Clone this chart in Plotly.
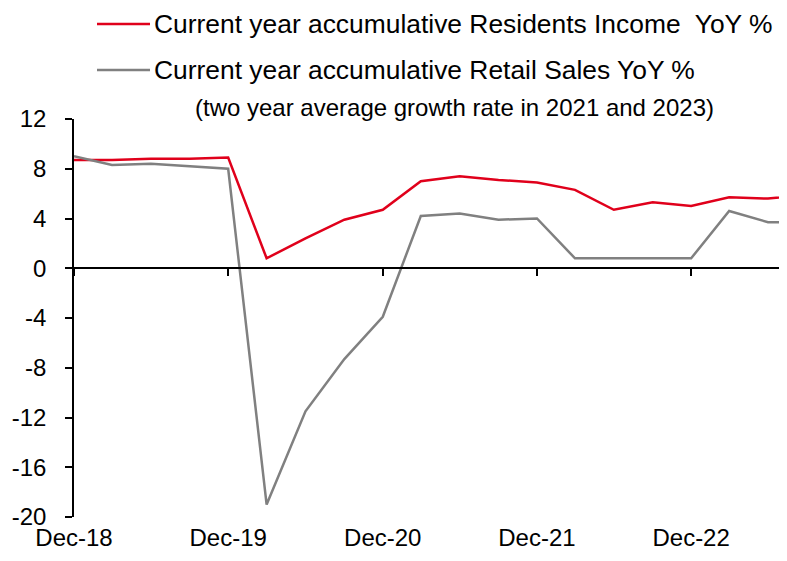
import plotly.graph_objects as go

# ---- data ----
quarters = ["2018-12-01", "2019-03-01", "2019-06-01", "2019-09-01", "2019-12-01",
            "2020-03-01", "2020-06-01", "2020-09-01", "2020-12-01",
            "2021-03-01", "2021-06-01", "2021-09-01", "2021-12-01",
            "2022-03-01", "2022-06-01", "2022-09-01", "2022-12-01",
            "2023-03-01", "2023-06-01", "2023-09-01"]
income_yoy = [8.7, 8.7, 8.8, 8.8, 8.9,
              0.8, 2.4, 3.9, 4.7,
              7.0, 7.4, 7.1, 6.9,
              6.3, 4.7, 5.3, 5.0,
              5.7, 5.6, 5.9]
retail_yoy = [9.0, 8.3, 8.4, 8.2, 8.0,
              -19.0, -11.5, -7.3, -3.9,
              4.2, 4.4, 3.9, 4.0,
              0.8, 0.8, 0.8, 0.8,
              4.6, 3.7, 3.7]
tick_dates = ["2018-12-01", "2019-12-01", "2020-12-01", "2021-12-01", "2022-12-01"]
tick_text = ["Dec-18", "Dec-19", "Dec-20", "Dec-21", "Dec-22"]
y_ticks = [12, 8, 4, 0, -4, -8, -12, -16, -20]
y_tick_text = ["12", "8", "4", "0", "-4", "-8", "-12", "-16", "-20"]
legend_names = ["Current year accumulative Residents Income  YoY %",
                "Current year accumulative Retail Sales YoY %"]
note_text = "(two year average growth rate in 2021 and 2023)"

RED = "#E0001B"
GRAY = "#808080"
FONT = "Liberation Sans, Arial, sans-serif"

# the page body has an 8px margin; keep the figure inside the window
OFF = 8
W, H = 787 - 2 * OFF, 561 - 2 * OFF
ML, MR, MT = 74 - OFF, 0, 119 - OFF
MB = H - (517 - OFF)
PW, PH = W - ML - MR, H - MT - MB


def px_x(x):
    return (x - OFF - ML) / PW


def px_y(y):
    return (H - MB - (y - OFF)) / PH


fig = go.Figure()
fig.add_trace(go.Scatter(x=quarters, y=income_yoy, mode="lines", name=legend_names[0],
                         line=dict(color=RED, width=2.5), showlegend=False))
fig.add_trace(go.Scatter(x=quarters, y=retail_yoy, mode="lines", name=legend_names[1],
                         line=dict(color=GRAY, width=2.5), showlegend=False,
                         xaxis="x2"))

# manual legend
shapes = []
annotations = []
for i, (name, col, ypx) in enumerate(zip(legend_names, [RED, GRAY], [24, 70])):
    shapes.append(dict(type="line", xref="paper", yref="paper",
                       x0=px_x(97), x1=px_x(150), y0=px_y(ypx), y1=px_y(ypx),
                       line=dict(color=col, width=2.5)))
    annotations.append(dict(text=name, xref="paper", yref="paper",
                            x=px_x(152), y=px_y(ypx), xanchor="left", yanchor="middle",
                            showarrow=False, font=dict(family=FONT, size=26.4, color="black")))
annotations.append(dict(text=note_text, xref="paper", yref="paper",
                        x=px_x(454), y=px_y(107), xanchor="center", yanchor="middle",
                        showarrow=False, font=dict(family=FONT, size=24, color="black")))

ymin, ymax = -20, 12
fig.update_layout(
    width=W, height=H,
    margin=dict(l=ML, r=MR, t=MT, b=MB, pad=0, autoexpand=False),
    paper_bgcolor="white", plot_bgcolor="white",
    font=dict(family=FONT, color="black"),
    shapes=shapes, annotations=annotations,
    xaxis=dict(type="date", range=["2018-12-01", "2023-06-27"],
               tickvals=tick_dates, ticktext=tick_text, ticks="",
               showline=False, showgrid=False, zeroline=False, automargin=False,
               tickfont=dict(family=FONT, size=24), ticklabelstandoff=4),
    xaxis2=dict(type="date", matches="x", overlaying="x", anchor="free",
                position=(0 - ymin) / (ymax - ymin), automargin=False,
                tickvals=tick_dates, showticklabels=False,
                ticks="outside", ticklen=7, tickwidth=1.5, tickcolor="black",
                showline=True, linecolor="black", linewidth=1.5,
                showgrid=False, zeroline=False),
    yaxis=dict(range=[ymin, ymax], tickvals=y_ticks, ticktext=y_tick_text,
               ticks="outside", ticklen=7, automargin=False,
               tickwidth=1.5, tickcolor="black", showline=True, linecolor="black",
               linewidth=1.5, showgrid=False, zeroline=False,
               tickfont=dict(family=FONT, size=24), ticklabelstandoff=14),
)

fig.write_html("out.html")
